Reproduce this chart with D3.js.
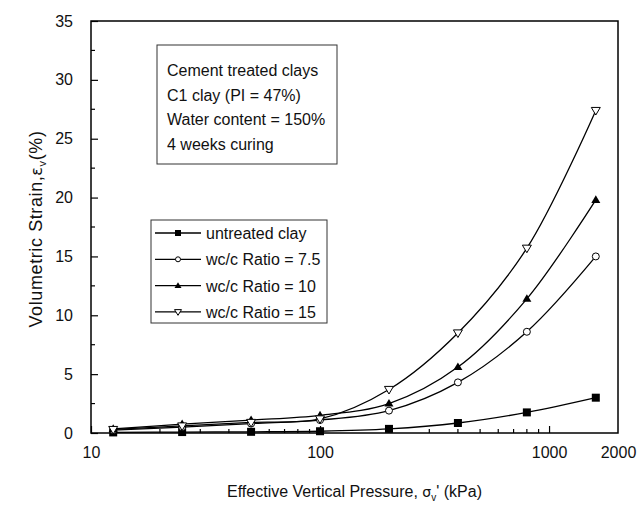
<!DOCTYPE html>
<html>
<head>
<meta charset="utf-8">
<script src="https://cdn.jsdelivr.net/npm/d3@7"></script>
<style>
  html, body { margin: 0; padding: 0; background: #fff; }
  svg { display: block; font-family: "Liberation Sans", Arial, sans-serif; }
</style>
</head>
<body>
<svg id="chart" width="644" height="505"></svg>
<script>
// Applied effective vertical pressure steps (kPa)
const pressure = [12.5, 25, 50, 100, 200, 400, 800, 1600];

// Volumetric strain (%) for each sample
const untreated = [0.05, 0.08, 0.1, 0.15, 0.35, 0.85, 1.75, 3.0];
const ratio75   = [0.25, 0.5, 0.8, 1.1, 1.9, 4.3, 8.6, 15.0];
const ratio10   = [0.35, 0.75, 1.1, 1.5, 2.5, 5.6, 11.4, 19.8];
const ratio15   = [0.3, 0.6, 0.9, 1.2, 3.7, 8.5, 15.7, 27.4];

const seriesNames = ["untreated clay", "wc/c Ratio = 7.5", "wc/c Ratio = 10", "wc/c Ratio = 15"];
const seriesValues = [untreated, ratio75, ratio10, ratio15];
const seriesMarkers = ["squareFilled", "circleOpen", "triangleFilled", "triangleDownOpen"];

const xTickValues = [10, 100, 1000, 2000];
const yTickValues = [0, 5, 10, 15, 20, 25, 30, 35];

const infoLines = ["Cement treated clays", "C1 clay (PI = 47%)", "Water content = 150%", "4 weeks curing"];

const svg = d3.select("#chart");
const plot = { left: 91, right: 618, top: 21, bottom: 433 };

const x = d3.scaleLog().domain([10, 2000]).range([plot.left, plot.right]);
const y = d3.scaleLinear().domain([0, 35]).range([plot.bottom, plot.top]);

// Frame
svg.append("rect")
  .attr("x", plot.left).attr("y", plot.top)
  .attr("width", plot.right - plot.left).attr("height", plot.bottom - plot.top)
  .attr("fill", "none").attr("stroke", "#000").attr("stroke-width", 1.5);

// Y axis: inward ticks, minor every 2.5
const yAxis = d3.axisLeft(y).tickValues(yTickValues).tickSize(-7).tickPadding(18).tickFormat(d3.format("d"));
const gy = svg.append("g").attr("transform", `translate(${plot.left},0)`).call(yAxis);
gy.select(".domain").remove();
gy.selectAll("text").attr("font-size", 16).attr("fill", "#111");
gy.selectAll("line").attr("stroke", "#000").attr("stroke-width", 1.2);
const yMinor = d3.range(2.5, 35, 5);
svg.append("g").selectAll("line").data(yMinor).join("line")
  .attr("x1", plot.left).attr("x2", plot.left + 4)
  .attr("y1", d => y(d)).attr("y2", d => y(d))
  .attr("stroke", "#000").attr("stroke-width", 1.2);

// X axis: log scale, inward ticks
const xAxis = d3.axisBottom(x).tickValues(xTickValues).tickSize(-7).tickPadding(14).tickFormat(d3.format("d"));
const gx = svg.append("g").attr("transform", `translate(0,${plot.bottom})`).call(xAxis);
gx.select(".domain").remove();
gx.selectAll("text").attr("font-size", 16).attr("fill", "#111");
gx.selectAll("line").attr("stroke", "#000").attr("stroke-width", 1.2);
gx.selectAll(".tick").filter(d => d === 2000).select("line").remove();
const xMinor = [20, 30, 40, 50, 60, 70, 80, 90, 200, 300, 400, 500, 600, 700, 800, 900];
svg.append("g").selectAll("line").data(xMinor).join("line")
  .attr("x1", d => x(d)).attr("x2", d => x(d))
  .attr("y1", plot.bottom).attr("y2", plot.bottom - 4)
  .attr("stroke", "#000").attr("stroke-width", 1.2);

// Axis titles
const yTitle = svg.append("text")
  .attr("transform", `translate(42,${(plot.top + plot.bottom) / 2 + 2}) rotate(-90)`)
  .attr("text-anchor", "middle").attr("font-size", 18).attr("fill", "#111")
  .attr("letter-spacing", 0.6);
yTitle.append("tspan").text("Volumetric Strain,");
yTitle.append("tspan").text("ε").attr("font-family", "DejaVu Sans").attr("font-size", 16);
yTitle.append("tspan").text("v").attr("font-size", 11).attr("dy", 4);
yTitle.append("tspan").text("(%)").attr("dy", -4);

const xTitle = svg.append("text")
  .attr("x", (plot.left + plot.right) / 2).attr("y", 497)
  .attr("text-anchor", "middle").attr("font-size", 16).attr("fill", "#111");
xTitle.append("tspan").text("Effective Vertical Pressure, ");
xTitle.append("tspan").text("σ").attr("font-family", "DejaVu Sans").attr("font-size", 14);
xTitle.append("tspan").text("v").attr("font-size", 10).attr("dy", 4);
xTitle.append("tspan").text("' (kPa)").attr("dy", -4);

// Marker drawing
function drawMarker(g, type, cx, cy, s) {
  if (type === "squareFilled") {
    g.append("rect").attr("x", cx - s / 2).attr("y", cy - s / 2).attr("width", s).attr("height", s).attr("fill", "#000");
  } else if (type === "circleOpen") {
    g.append("circle").attr("cx", cx).attr("cy", cy).attr("r", s / 2 - 0.5)
      .attr("fill", "#fff").attr("stroke", "#000").attr("stroke-width", 1);
  } else if (type === "triangleFilled") {
    const h = s * 0.95;
    g.append("path").attr("d", `M${cx},${cy - h * 0.6}L${cx + s / 2 + 0.5},${cy + h * 0.4}L${cx - s / 2 - 0.5},${cy + h * 0.4}Z`).attr("fill", "#000");
  } else if (type === "triangleDownOpen") {
    const h = s * 0.95;
    g.append("path").attr("d", `M${cx},${cy + h * 0.6}L${cx + s / 2 + 0.5},${cy - h * 0.4}L${cx - s / 2 - 0.5},${cy - h * 0.4}Z`)
      .attr("fill", "#fff").attr("stroke", "#000").attr("stroke-width", 1);
  }
}

// Curves
const line = d3.line()
  .x(d => x(d[0])).y(d => y(d[1]))
  .curve(d3.curveCatmullRom.alpha(0.5));

const curves = svg.append("g");
seriesValues.forEach(vals => {
  curves.append("path")
    .datum(pressure.map((p, i) => [p, vals[i]]))
    .attr("d", line)
    .attr("fill", "none").attr("stroke", "#000").attr("stroke-width", 1.3);
});

const markers = svg.append("g");
seriesValues.forEach((vals, si) => {
  pressure.forEach((p, i) => drawMarker(markers, seriesMarkers[si], x(p), y(vals[i]), 8));
});

// Information box
const info = svg.append("g");
info.append("rect").attr("x", 157).attr("y", 45).attr("width", 180).attr("height", 119)
  .attr("fill", "#fff").attr("stroke", "#333").attr("stroke-width", 1);
info.selectAll("text").data(infoLines).join("text")
  .attr("x", 167).attr("y", (d, i) => 76 + i * 24.7)
  .attr("font-size", 16).attr("fill", "#111").text(d => d);

// Legend
const legend = svg.append("g");
legend.append("rect").attr("x", 151).attr("y", 220).attr("width", 176).attr("height", 103)
  .attr("fill", "#fff").attr("stroke", "#333").attr("stroke-width", 1);
seriesNames.forEach((name, i) => {
  const ly = 233 + i * 26.3;
  legend.append("line").attr("x1", 155).attr("x2", 201).attr("y1", ly).attr("y2", ly)
    .attr("stroke", "#000").attr("stroke-width", 1.3);
  const mg = legend.append("g");
  drawMarker(mg, seriesMarkers[i], 178, ly, 6);
  legend.append("text").attr("x", 206).attr("y", ly + 6)
    .attr("font-size", 16).attr("fill", "#111").text(name);
});
</script>
</body>
</html>
